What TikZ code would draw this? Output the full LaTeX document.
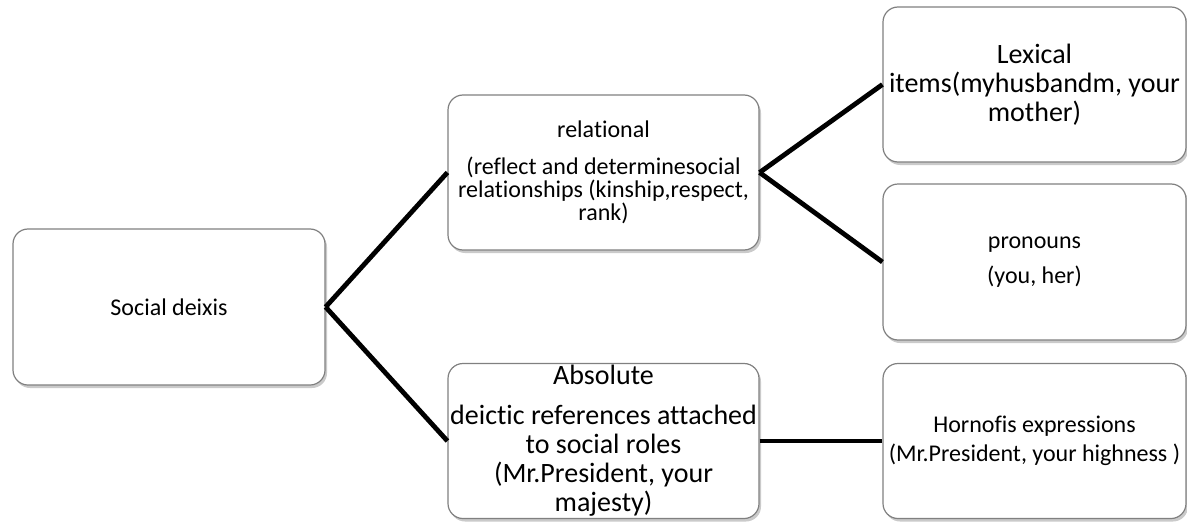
\documentclass[tikz,border=0pt]{standalone}
\usepackage{fontspec}
\setmainfont[Ligatures={NoCommon},RawFeature={-liga;-clig;-dlig}]{Carlito}
\usetikzlibrary{shadows}
\begin{document}
\begin{tikzpicture}[x=0.5pt,y=-0.5pt,
  box/.style={draw=black!50, line width=0.6pt, rounded corners=7.5pt, fill=white,
    align=center, inner sep=0pt,
    drop shadow={shadow xshift=1pt, shadow yshift=-1.5pt, opacity=0.35, fill=black!60}},
  wide/.style={minimum width=155.5pt, minimum height=77.5pt},
  narrow/.style={minimum width=151.5pt, minimum height=77.5pt},
  small/.style={font=\fontsize{12}{14.5}\selectfont},
  big/.style={font=\fontsize{14}{14.5}\selectfont},
  link/.style={line width=2.4pt, black}]
\useasboundingbox (0,0) rectangle (1187,524);
\node[box, wide, minimum width=156pt, minimum height=78pt, small] (soc) at (169,307) {Social deixis};
\node[box, wide, font=\fontsize{12}{10}\selectfont] (rel) at (603.5,172.5)
  {relational\\[8.5pt](reflect and determinesocial\\relationships (kinship,respect,\\rank)};
\node[box, wide, big] (abs) at (603.5,441)
  {Absolute\\[5.5pt]deictic references attached\\to social roles\\(Mr.President, your\\majesty)};
\node[box, narrow, big] (lex) at (1034.5,84.5)
  {Lexical\\items(myhusbandm, your\\mother)};
\node[box, narrow, minimum height=78pt, small] (pro) at (1034.5,262)
  {pronouns\\[3pt](you, her)};
\node[box, narrow, small] (hor) at (1034.5,441)
  {Hornofis expressions\\(Mr.President, your highness )};
\draw[link] (soc.east) -- (rel.west);
\draw[link] (soc.east) -- (abs.west);
\draw[link] (rel.east) -- (lex.west);
\draw[link] (rel.east) -- (pro.west);
\draw[link] (abs.east) -- (hor.west);
\end{tikzpicture}
\end{document}
